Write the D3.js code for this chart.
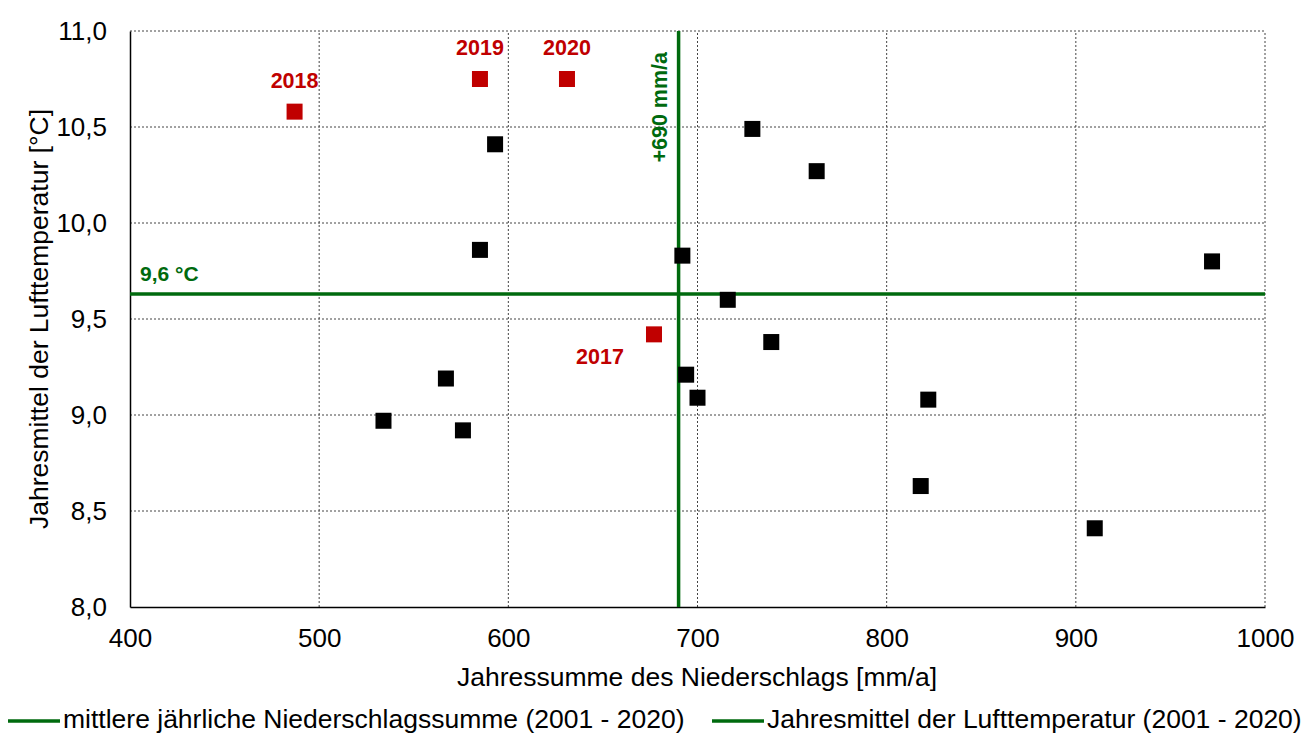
<!DOCTYPE html>
<html>
<head>
<meta charset="utf-8">
<script src="https://cdn.jsdelivr.net/npm/d3@7"></script>
<style>
  body { margin: 0; background: #fff; }
  text { font-family: "Liberation Sans", Arial, sans-serif; }
</style>
</head>
<body>
<div id="chart"></div>
<script>
// Data: annual precipitation [mm/a] vs. mean air temperature [°C], 2001-2020
let years     = [2001,2002,2003,2004,2005,2006,2007,2008,2009,2010,2011,2012,2013,2014,2015,2016,2017,2018,2019,2020];
let precip    = [593, 585, 567, 534, 576, 692, 729, 763, 716, 739, 694, 700, 822, 818, 910, 972, 677, 487, 585, 631];
let temp      = [10.41, 9.86, 9.19, 8.97, 8.92, 9.83, 10.49, 10.27, 9.60, 9.38, 9.21, 9.09, 9.08, 8.63, 8.41, 9.80, 9.42, 10.58, 10.75, 10.75];
let highlight = [2017, 2018, 2019, 2020];

let meanPrecip = 690;
let meanTemp = 9.63;

let xTicks = [400,500,600,700,800,900,1000];
let yTicks = [8.0,8.5,9.0,9.5,10.0,10.5,11.0];

let legendLabels = ["mittlere jährliche Niederschlagssumme (2001 - 2020)",
                    "Jahresmittel der Lufttemperatur (2001 - 2020)"];

// svg attributes
let svgWidth = 1311;
let svgHeight = 735;
let margin = {left: 130, right: 46, top: 31, bottom: 128};

let green = "#006a0e";
let red = "#c00000";

let svg = d3.select("#chart")
  .append("svg")
  .attr("width", svgWidth)
  .attr("height", svgHeight);

let xScale = d3.scaleLinear()
  .domain([400, 1000])
  .range([margin.left, svgWidth - margin.right]);

let yScale = d3.scaleLinear()
  .domain([8, 11])
  .range([svgHeight - margin.bottom, margin.top]);

let fmt = d => d3.format(".1f")(d).replace(".", ",");

// gridlines (dotted)
svg.append("g")
  .selectAll("line")
  .data(xTicks.slice(1))
  .enter().append("line")
  .attr("x1", d => xScale(d)).attr("x2", d => xScale(d))
  .attr("y1", yScale(8)).attr("y2", yScale(11))
  .attr("stroke", "#444").attr("stroke-width", 1).attr("stroke-dasharray", "2,2");

svg.append("g")
  .selectAll("line")
  .data(yTicks.slice(1))
  .enter().append("line")
  .attr("x1", xScale(400)).attr("x2", xScale(1000))
  .attr("y1", d => yScale(d)).attr("y2", d => yScale(d))
  .attr("stroke", "#444").attr("stroke-width", 1).attr("stroke-dasharray", "2,2");

// axes
let xAxis = svg.append("g")
  .attr("transform", `translate(0,${yScale(8)})`)
  .call(d3.axisBottom(xScale).tickValues(xTicks).tickFormat(d3.format("d")).tickSize(0).tickPadding(22));

let yAxis = svg.append("g")
  .attr("transform", `translate(${xScale(400)},0)`)
  .call(d3.axisLeft(yScale).tickValues(yTicks).tickFormat(fmt).tickSize(0).tickPadding(23));

[xAxis, yAxis].forEach(a => {
  a.attr("font-family", "'Liberation Sans', Arial, sans-serif").attr("font-size", 26);
  a.select(".domain").attr("stroke", "#000").attr("stroke-width", 1.5);
  a.selectAll("text").attr("fill", "#000");
});

// axis titles
svg.append("text")
  .attr("x", 697)
  .attr("y", 686)
  .attr("text-anchor", "middle")
  .attr("font-size", 26.5)
  .text("Jahressumme des Niederschlags [mm/a]");

svg.append("text")
  .attr("transform", `translate(48,${(yScale(8) + yScale(11)) / 2}) rotate(-90)`)
  .attr("text-anchor", "middle")
  .attr("font-size", 26.5)
  .text("Jahresmittel der Lufttemperatur [°C]");

// mean lines
svg.append("line")
  .attr("x1", xScale(meanPrecip)).attr("x2", xScale(meanPrecip))
  .attr("y1", yScale(8)).attr("y2", yScale(11))
  .attr("stroke", green).attr("stroke-width", 3.5);

svg.append("line")
  .attr("x1", xScale(400)).attr("x2", xScale(1000))
  .attr("y1", yScale(meanTemp)).attr("y2", yScale(meanTemp))
  .attr("stroke", green).attr("stroke-width", 3.5);

svg.append("text")
  .attr("transform", `translate(${xScale(meanPrecip) - 12},${yScale(11) + 21}) rotate(-90)`)
  .attr("text-anchor", "end")
  .attr("font-size", 21.5).attr("font-weight", "bold").attr("fill", green)
  .text("+690 mm/a");

svg.append("text")
  .attr("x", xScale(400) + 10)
  .attr("y", yScale(meanTemp) - 13)
  .attr("font-size", 21).attr("font-weight", "bold").attr("fill", green)
  .text("9,6 °C");

// points
let points = years.map((y, i) => ({year: y, x: precip[i], t: temp[i], hi: highlight.includes(y)}));
let size = 16;

svg.append("g")
  .selectAll("rect")
  .data(points)
  .enter().append("rect")
  .attr("x", d => xScale(d.x) - size / 2)
  .attr("y", d => yScale(d.t) - size / 2)
  .attr("width", size).attr("height", size)
  .attr("fill", d => d.hi ? red : "#000");

// year labels for highlighted points
let labelOffset = {2017: [-54, 30], 2018: [0, -24], 2019: [0, -24], 2020: [0, -24]};
svg.append("g")
  .selectAll("text")
  .data(points.filter(d => d.hi))
  .enter().append("text")
  .attr("x", d => xScale(d.x) + labelOffset[d.year][0])
  .attr("y", d => yScale(d.t) + labelOffset[d.year][1])
  .attr("text-anchor", "middle")
  .attr("font-size", 21.5).attr("font-weight", "bold").attr("fill", red)
  .text(d => d.year);

// legend
let legendX = [8, 712];
let legend = svg.append("g")
  .selectAll("g")
  .data(legendLabels)
  .enter().append("g")
  .attr("transform", (d, i) => `translate(${legendX[i]},721)`);

legend.append("line")
  .attr("x1", 0).attr("x2", 52)
  .attr("stroke", green).attr("stroke-width", 3.5);

legend.append("text")
  .attr("x", 55).attr("y", 7)
  .attr("font-size", 26.5)
  .text(d => d);
</script>
</body>
</html>
